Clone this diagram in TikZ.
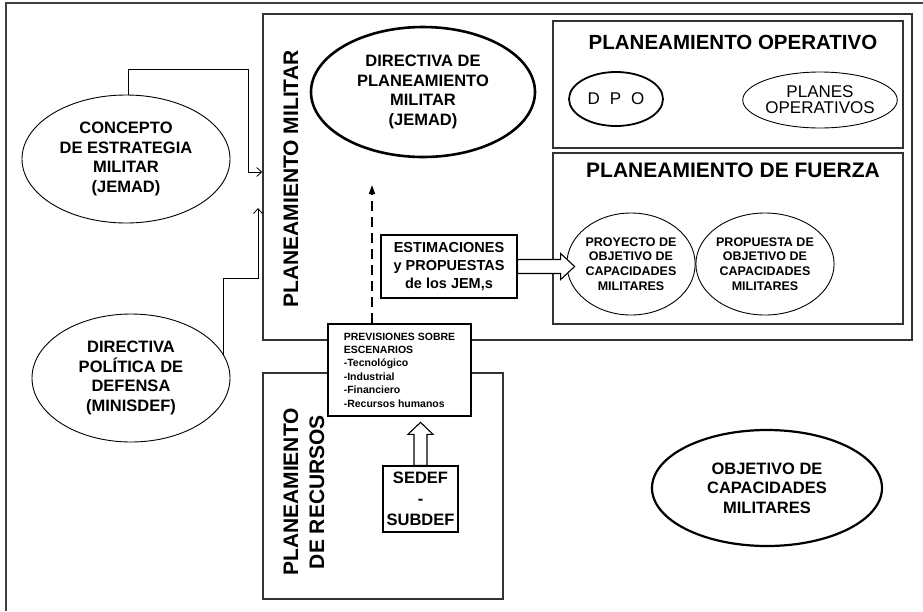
\documentclass[tikz,border=0pt]{standalone}
\usepackage{fontspec}
\setmainfont{Liberation Sans}
\usetikzlibrary{arrows.meta}
\usetikzlibrary{shapes.geometric}
\tikzset{oval/.style = {draw, ellipse, line width = 0.9pt, inner sep = 0, align = center,
                        font = \bfseries\fontsize{16.5}{19.5}\selectfont}}
\tikzset{thickoval/.style = {oval, line width = 2.6pt}}
\tikzset{smalloval/.style = {oval, font = \bfseries\fontsize{12.5}{14.7}\selectfont}}
\tikzset{frame/.style = {draw, line width = 1.6pt, black!80, inner sep = 0}}
\tikzset{textbox/.style = {draw, line width = 1.3pt, fill = white, inner sep = 0, align = center}}
\tikzset{title/.style = {font = \bfseries\fontsize{21}{26}\selectfont}}
\tikzset{barb/.style = {line width = 0.8pt, -{Straight Barb[length = 5pt, width = 9pt]}}}
\tikzset{dasharrow/.style = {line width = 1.6pt, dash pattern = on 10pt off 6pt,
                             -{Triangle[length = 9pt, width = 6pt]}}}
\tikzset{hollow/.style = {draw, line width = 1.1pt, fill = white}}

\begin{document}
\begin{tikzpicture}[x = 1pt, y = -1pt]
  \useasboundingbox (0, 0) rectangle (923, 611);
  \draw [line width = 1.2pt, black!75] (6, 611) -- (6, 3) -- (923, 3);
  % marcos
  \node [frame, minimum width = 649pt, minimum height = 326pt] (militar) at (587.5, 177) {};
  \node [frame, minimum width = 240pt, minimum height = 226pt] (recursos) at (383, 486) {};
  \node [frame, line width = 1.3pt, minimum width = 350pt, minimum height = 127pt] (operativo) at (728, 84.5) {};
  \node [frame, line width = 1.3pt, minimum width = 350pt, minimum height = 171pt] (fuerza) at (728, 238.5) {};
  \node [title, rotate = 90] (tmilitar) at (291, 179) {PLANEAMIENTO MILITAR};
  \node [title, rotate = 90, align = center] (trecursos) at (304, 492) {PLANEAMIENTO\\DE RECURSOS};
  \node [title, font = \bfseries\fontsize{20.5}{24}\selectfont] (toperativo) at (733, 42) {PLANEAMIENTO OPERATIVO};
  \node [title] (tfuerza) at (733, 170) {PLANEAMIENTO DE FUERZA};
  % elipses
  \node [oval, minimum width = 208pt, minimum height = 128pt] (concepto) at (126, 159)
        {CONCEPTO\\DE ESTRATEGIA\\MILITAR\\(JEMAD)};
  \node [oval, minimum width = 198pt, minimum height = 128pt] (politica) at (131, 378)
        {DIRECTIVA\\POLÍTICA DE\\DEFENSA\\(MINISDEF)};
  \node [thickoval, minimum width = 224pt, minimum height = 130pt] (dirplan) at (423, 92)
        {DIRECTIVA DE\\PLANEAMIENTO\\MILITAR\\(JEMAD)};
  \node [oval, line width = 1.8pt, minimum width = 94pt, minimum height = 54pt,
         font = \fontsize{17}{16}\selectfont] (dpo) at (616, 99) {D\hspace{10pt}P\hspace{10pt}O};
  \node [oval, minimum width = 134pt, minimum height = 56pt,
         font = \fontsize{17}{16}\selectfont] (planes) at (820, 100) {PLANES\\OPERATIVOS};
  \node [smalloval, minimum width = 126pt, minimum height = 102pt] (proyecto) at (631, 264)
        {PROYECTO DE\\OBJETIVO DE\\CAPACIDADES\\MILITARES};
  \node [smalloval, minimum width = 126pt, minimum height = 102pt] (propuesta) at (765, 264)
        {PROPUESTA DE\\OBJETIVO DE\\CAPACIDADES\\MILITARES};
  \node [thickoval, line width = 2.2pt, minimum width = 230pt, minimum height = 116pt] (objetivo) at (767, 488)
        {OBJETIVO DE\\CAPACIDADES\\MILITARES};
  % cajas de texto
  \node [textbox, minimum width = 136pt, minimum height = 63pt,
         font = \bfseries\fontsize{14.5}{18}\selectfont] (estim) at (449, 266.5)
        {ESTIMACIONES\\y PROPUESTAS\\de los JEM,s};
  \node [textbox, align = left, minimum width = 143pt, minimum height = 92pt,
         font = \bfseries\fontsize{10.5}{13.4}\selectfont] (previs) at (399.5, 370)
        {PREVISIONES SOBRE\\ESCENARIOS\\-Tecnológico\\-Industrial\\-Financiero\\-Recursos humanos};
  \node [textbox, minimum width = 75pt, minimum height = 66pt,
         font = \bfseries\fontsize{16.5}{21}\selectfont] (sedef) at (420.5, 499) {SEDEF\\-\\SUBDEF};
  % conectores
  \draw [barb] (concepto.88) |- (248, 69) |- (militar.west |- 0, 172);
  \coordinate (ptip) at (258, 208);
  \draw [barb] (politica.14) |- (258, 278) -- (ptip);
  \coordinate (dtip) at (372, 185);
  \draw [dasharrow] (previs.north -| dtip) -- (dtip);
  \draw [hollow] (estim.east) ++(0, -7) -- ++(43, 0) -- ++(0, -6) -- ++(14, 13)
        -- ++(-14, 13) -- ++(0, -6) -- ++(-43, 0) -- cycle;
  \draw [hollow] (sedef.north) ++(-6.5, 0) -- ++(0, -31) -- ++(-6, 0) -- ++(12.5, -12)
        -- ++(12.5, 12) -- ++(-6, 0) -- ++(0, 31) -- cycle;
\end{tikzpicture}
\end{document}
